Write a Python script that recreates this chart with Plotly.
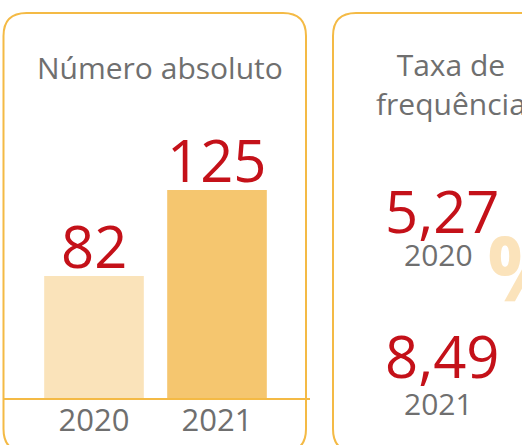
import plotly.graph_objects as go

W, H = 522, 445

# ---- data ----
years = ["2020", "2021"]
absolute_values = [82, 125]
rate_labels = ["5,27", "8,49"]
rate_years = ["2020", "2021"]
title_left = "Número absoluto"
title_right = "Taxa de<br>frequência"

bar_colors = ["#FAE3BA", "#F5C66F"]
red = "#C41119"
gray = "#6F6F6F"
border = "#F4BA45"
FONT = "Open Sans"

def px(x):
    return x / W

def py(y):
    return 1 - y / H

def rrect(x0, y0, x1, y1, r):
    pts = [
        f"M {px(x0 + r)},{py(y0)}",
        f"L {px(x1 - r)},{py(y0)}",
        f"Q {px(x1)},{py(y0)} {px(x1)},{py(y0 + r)}",
        f"L {px(x1)},{py(y1 - r)}",
        f"Q {px(x1)},{py(y1)} {px(x1 - r)},{py(y1)}",
        f"L {px(x0 + r)},{py(y1)}",
        f"Q {px(x0)},{py(y1)} {px(x0)},{py(y1 - r)}",
        f"L {px(x0)},{py(y0 + r)}",
        f"Q {px(x0)},{py(y0)} {px(x0 + r)},{py(y0)}",
        "Z",
    ]
    return " ".join(pts)

fig = go.Figure()
fig.add_trace(go.Bar(
    x=years, y=absolute_values,
    marker=dict(color=bar_colors, line=dict(width=0)),
    width=0.81,
    hoverinfo="skip",
))

# y-range so bars land where they do in the picture
base_px, y_bottom_val, scale = 399, 20.5, 2.0
top_px = 100
y_top_val = y_bottom_val + (base_px - top_px) / scale

fig.update_layout(
    width=W, height=H,
    margin=dict(l=0, r=0, t=0, b=0),
    paper_bgcolor="white", plot_bgcolor="rgba(0,0,0,0)",
    showlegend=False,
    xaxis=dict(type="category", domain=[32.5 / W, 278.5 / W], range=[-0.5, 1.5],
               showgrid=False, zeroline=False, showline=False,
               ticks="", tickfont=dict(family=FONT, size=31, color=gray),
               fixedrange=True),
    yaxis=dict(domain=[py(base_px), py(top_px)], range=[y_bottom_val, y_top_val],
               visible=False, fixedrange=True),
    font=dict(family=FONT),
)

shapes = [
    dict(type="path", path=rrect(3.5, 13, 306, 452, 23), xref="paper", yref="paper",
         line=dict(color=border, width=2)),
    dict(type="path", path=rrect(333, 13, 700, 452, 23), xref="paper", yref="paper",
         line=dict(color=border, width=2)),
    dict(type="line", x0=px(3), x1=px(310), y0=py(399), y1=py(399), xref="paper", yref="paper",
         line=dict(color=border, width=2)),
]
fig.update_layout(shapes=shapes)

ann = []
# bar value labels
for i, v in enumerate(absolute_values):
    ann.append(dict(x=i, y=v, xref="x", yref="y", text=str(v), showarrow=False,
                    xanchor="center", yanchor="bottom", yshift=-11,
                    font=dict(family=FONT, size=58, color=red)))
# titles
ann.append(dict(x=px(160), y=py(68), xref="paper", yref="paper", text=title_left,
                xanchor="center", yanchor="middle",
                showarrow=False, font=dict(family=FONT, size=30, color=gray)))
ann.append(dict(x=px(451), y=py(84), xref="paper", yref="paper", text=title_right,
                xanchor="center", yanchor="middle",
                showarrow=False, font=dict(family=FONT, size=30, color=gray)))
# big percent sign
ann.append(dict(x=px(485), y=py(266), xref="paper", yref="paper", text="%",
                xanchor="left", yanchor="middle", showarrow=False,
                font=dict(family=FONT, size=90, color="#FBE3BB", weight=700)))
# rates
rate_centers = [210, 355]
year_centers = [254, 403]
for lab, yr, yc, ycy in zip(rate_labels, rate_years, rate_centers, year_centers):
    ann.append(dict(x=px(442), y=py(yc), xref="paper", yref="paper", text=lab,
                    xanchor="center", yanchor="middle",
                    showarrow=False, font=dict(family=FONT, size=58, color=red)))
    ann.append(dict(x=px(438), y=py(ycy), xref="paper", yref="paper", text=yr,
                    xanchor="center", yanchor="middle",
                    showarrow=False, font=dict(family=FONT, size=30, color=gray)))
fig.update_layout(annotations=ann)

fig.write_html("out.html", config={"displayModeBar": False},
               post_script="document.body.style.margin='0';document.body.style.overflow='hidden';")
